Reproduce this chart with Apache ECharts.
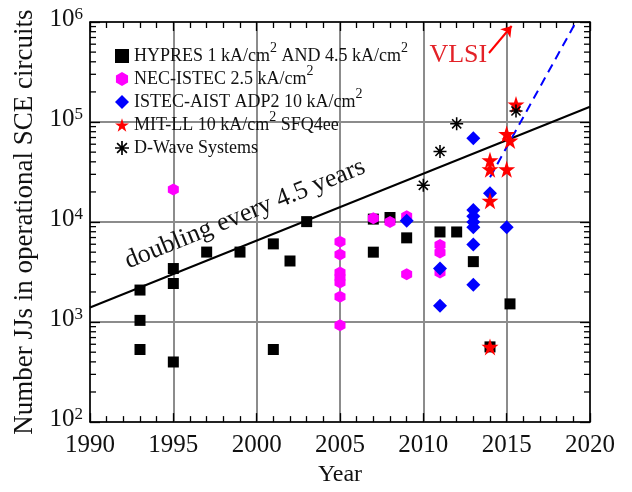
<!DOCTYPE html>
<html>
<head>
<meta charset="utf-8">
<script src="https://cdn.jsdelivr.net/npm/echarts@6/dist/echarts.min.js"></script>
<style>
html,body{margin:0;padding:0;background:#fff;}
#c{width:632px;height:492px;}
</style>
</head>
<body>
<div id="c"></div>
<script>
// ---------- data ----------
const seriesNames = [
  'HYPRES 1 kA/cm^2 AND 4.5 kA/cm^2',
  'NEC-ISTEC 2.5 kA/cm^2',
  'ISTEC-AIST ADP2 10 kA/cm^2',
  'MIT-LL 10 kA/cm^2 SFQ4ee',
  'D-Wave Systems'
];
const hypresYears  = [1993, 1993, 1993, 1995, 1995, 1995, 1997, 1999, 2001, 2001, 2002, 2003, 2007, 2007, 2008, 2009, 2011, 2012, 2013, 2014, 2015.2];
const hypresValues = [2090, 1040, 532, 3430, 2430, 399, 5010, 5010, 6050, 532, 4080, 10100, 10700, 5000, 11100, 6950, 7960, 7960, 4020, 565, 1520];
const necYears  = [1995, 2005, 2005, 2005, 2005, 2005, 2005, 2005, 2007, 2008, 2009, 2009, 2011, 2011, 2011];
const necValues = [21200, 6340, 4740, 3130, 2790, 2490, 1795, 927, 10900, 10000, 11400, 3010, 5900, 4950, 3130];
const istecYears  = [2009, 2011, 2011, 2013, 2013, 2013, 2013, 2013, 2013, 2013, 2014, 2015];
const istecValues = [10300, 3430, 1460, 69000, 13200, 11400, 10000, 8870, 5960, 2360, 19400, 8870];
const mitYears  = [2014, 2014, 2014, 2014, 2015, 2015, 2015.2, 2015.56];
const mitValues = [41400, 33700, 16300, 565, 76000, 33700, 65300, 150000];
const dwaveYears  = [2010, 2011, 2012, 2015.56];
const dwaveValues = [23300, 50800, 96000, 129000];

const trendYears  = [1990, 2020];
const trendValues = [1400, 142000];
const vlsiYears  = [2014, 2019.2];
const vlsiValues = [28000, 1030000];
const arrowYears  = [2013.94, 2015.3];
const arrowValues = [490000, 912000];

const vlsiLabelPos = [2012.1, 470000];
const doublingLabelPos = [1999.3, 12000];

const xTicks = [1990, 1995, 2000, 2005, 2010, 2015, 2020];
const yExponents = [2, 3, 4, 5, 6];
const yMinorMultipliers = [2, 3, 4, 5, 6, 7, 8, 9];

// ---------- helpers ----------
const FONT = "'Liberation Serif','Times New Roman',serif";
const zip = (xs, ys) => xs.map((x, i) => [x, ys[i]]);
const xMin = xTicks[0], xMax = xTicks[xTicks.length - 1];
const yMin = Math.pow(10, yExponents[0]), yMax = Math.pow(10, yExponents[yExponents.length - 1]);
const minorTickData = [];
yExponents.slice(0, -1).forEach(e => yMinorMultipliers.forEach(m => minorTickData.push([xMin, m * Math.pow(10, e)])));

const hexPath = 'path://M50 0 L93.3 25 L93.3 75 L50 100 L6.7 75 L6.7 25 Z';
const starPath = 'path://M50 0 L61.23 34.55 L97.55 34.55 L68.17 55.9 L79.39 90.45 L50 69.1 L20.61 90.45 L31.83 55.9 L2.45 34.55 L38.77 34.55 Z';
const asteriskPath = 'path://M0 44 L100 44 L100 56 L0 56 Z M44 0 L56 0 L56 100 L44 100 Z M10.8 19.2 L19.2 10.8 L89.2 80.8 L80.8 89.2 Z M80.8 10.8 L89.2 19.2 L19.2 89.2 L10.8 80.8 Z';

const supName = n => n.replace(/\^(\d)/g, '{s|$1}');

const chart = echarts.init(document.getElementById('c'), null, {renderer: 'canvas'});

const commonX = {
  type: 'value', min: xMin, max: xMax, interval: 5,
  axisLine: {show: true, onZero: false, lineStyle: {color: '#000', width: 1.5}},
  axisTick: {show: true, inside: true, length: 9, lineStyle: {color: '#000', width: 1.3}},
  minorTick: {show: true, splitNumber: 5, length: 6, lineStyle: {color: '#000', width: 1.3}},
};
const commonY = {
  type: 'log', logBase: 10, min: yMin, max: yMax,
  axisLine: {show: true, onZero: false, lineStyle: {color: '#000', width: 1.5}},
  axisTick: {show: true, inside: true, length: 10, lineStyle: {color: '#000', width: 1.3}},
};

const option = {
  animation: false,
  backgroundColor: '#fff',
  textStyle: {fontFamily: FONT},
  grid: {left: 90, right: 42, top: 22, bottom: 65, containLabel: false},
  xAxis: [
    Object.assign({}, commonX, {
      position: 'bottom',
      name: 'Year', nameLocation: 'middle', nameGap: 39,
      nameTextStyle: {fontFamily: FONT, fontSize: 24, color: '#111'},
      axisLabel: {show: true, margin: 11, fontFamily: FONT, fontSize: 25, color: '#111', formatter: v => String(v)},
      splitLine: {show: true, lineStyle: {color: '#8c8c8c', width: 2}},
    }),
    Object.assign({}, commonX, {
      position: 'top',
      axisLabel: {show: false},
      splitLine: {show: false},
    })
  ],
  yAxis: [
    Object.assign({}, commonY, {
      position: 'left',
      name: 'Number JJs in operational SCE circuits', nameLocation: 'middle', nameGap: 51,
      nameRotate: 90,
      nameTextStyle: {fontFamily: FONT, fontSize: 27, color: '#111'},
      axisLabel: {
        show: true, margin: 7,
        formatter: v => '{b|10}{s|' + Math.round(Math.log10(v)) + '}',
        rich: {
          b: {fontFamily: FONT, fontSize: 25, color: '#111', lineHeight: 32, padding: [0, 0, 6, 0]},
          s: {fontFamily: FONT, fontSize: 17, color: '#111', verticalAlign: 'top', lineHeight: 17}
        }
      },
      splitLine: {show: true, lineStyle: {color: '#8c8c8c', width: 2}},
    }),
    Object.assign({}, commonY, {
      position: 'right',
      axisLabel: {show: false},
      splitLine: {show: false},
    })
  ],
  legend: {
    orient: 'vertical', left: 110, top: 36,
    itemWidth: 14, itemHeight: 14, itemGap: -7,
    data: seriesNames,
    formatter: supName,
    textStyle: {
      fontFamily: FONT, fontSize: 18, color: '#111', lineHeight: 30,
      rich: {s: {fontFamily: FONT, fontSize: 14, color: '#111', verticalAlign: 'top', lineHeight: 14}}
    }
  },
  series: [
    {
      type: 'custom', silent: true, xAxisIndex: 0, yAxisIndex: 0, z: 5,
      data: minorTickData,
      renderItem: function (params, api) {
        const v = api.value(1);
        const l = api.coord([xMin, v]);
        const r = api.coord([xMax, v]);
        return {type: 'group', children: [
          {type: 'line', shape: {x1: l[0], y1: l[1], x2: l[0] + 6, y2: l[1]}, style: {stroke: '#000', lineWidth: 1.3}},
          {type: 'line', shape: {x1: r[0], y1: r[1], x2: r[0] - 6, y2: r[1]}, style: {stroke: '#000', lineWidth: 1.3}}
        ]};
      }
    },
    {
      name: 'trend', type: 'line', data: zip(trendYears, trendValues),
      symbol: 'none', lineStyle: {color: '#000', width: 2}, silent: true, z: 2
    },
    {
      name: 'vlsi', type: 'line', data: zip(vlsiYears, vlsiValues), clip: true,
      symbol: 'none', lineStyle: {color: '#0000ff', width: 2, type: [9, 6]}, silent: true, z: 2
    },
    {
      name: seriesNames[0], type: 'scatter', data: zip(hypresYears, hypresValues),
      symbol: 'rect', symbolSize: 11, itemStyle: {color: '#000', opacity: 1}, z: 3
    },
    {
      name: seriesNames[1], type: 'scatter', data: zip(necYears, necValues),
      symbol: hexPath, symbolSize: [11, 12], itemStyle: {color: '#ff00ff', opacity: 1}, z: 3
    },
    {
      name: seriesNames[2], type: 'scatter', data: zip(istecYears, istecValues),
      symbol: 'diamond', symbolSize: 14, itemStyle: {color: '#0000ff', opacity: 1}, z: 3
    },
    {
      name: seriesNames[3], type: 'scatter', data: zip(mitYears, mitValues),
      symbol: starPath, symbolSize: 17, itemStyle: {color: '#ff0000', opacity: 1}, z: 3
    },
    {
      name: seriesNames[4], type: 'scatter', data: zip(dwaveYears, dwaveValues),
      symbol: asteriskPath, symbolSize: 13, itemStyle: {color: '#000', opacity: 1}, z: 3
    },
    {
      name: 'labels', type: 'scatter', symbolSize: 0, silent: true, z: 4,
      itemStyle: {opacity: 1},
      data: [
        {value: vlsiLabelPos, label: {show: true, position: 'inside', formatter: 'VLSI', fontFamily: FONT, fontSize: 26, color: '#e32228', opacity: 1, textBorderWidth: 0}},
        {value: doublingLabelPos, label: {show: true, position: 'inside', formatter: 'doubling every 4.5 years', rotate: 22, fontFamily: FONT, fontSize: 26, color: '#111', opacity: 1, textBorderWidth: 0}}
      ],
      markLine: {
        silent: true, animation: false,
        symbol: ['none', 'arrow'], symbolSize: 10,
        label: {show: false},
        lineStyle: {color: '#ff0000', width: 2, type: 'solid', opacity: 1},
        data: [[{coord: [arrowYears[0], arrowValues[0]]}, {coord: [arrowYears[1], arrowValues[1]]}]]
      }
    }
  ]
};
chart.setOption(option);
</script>
</body>
</html>
